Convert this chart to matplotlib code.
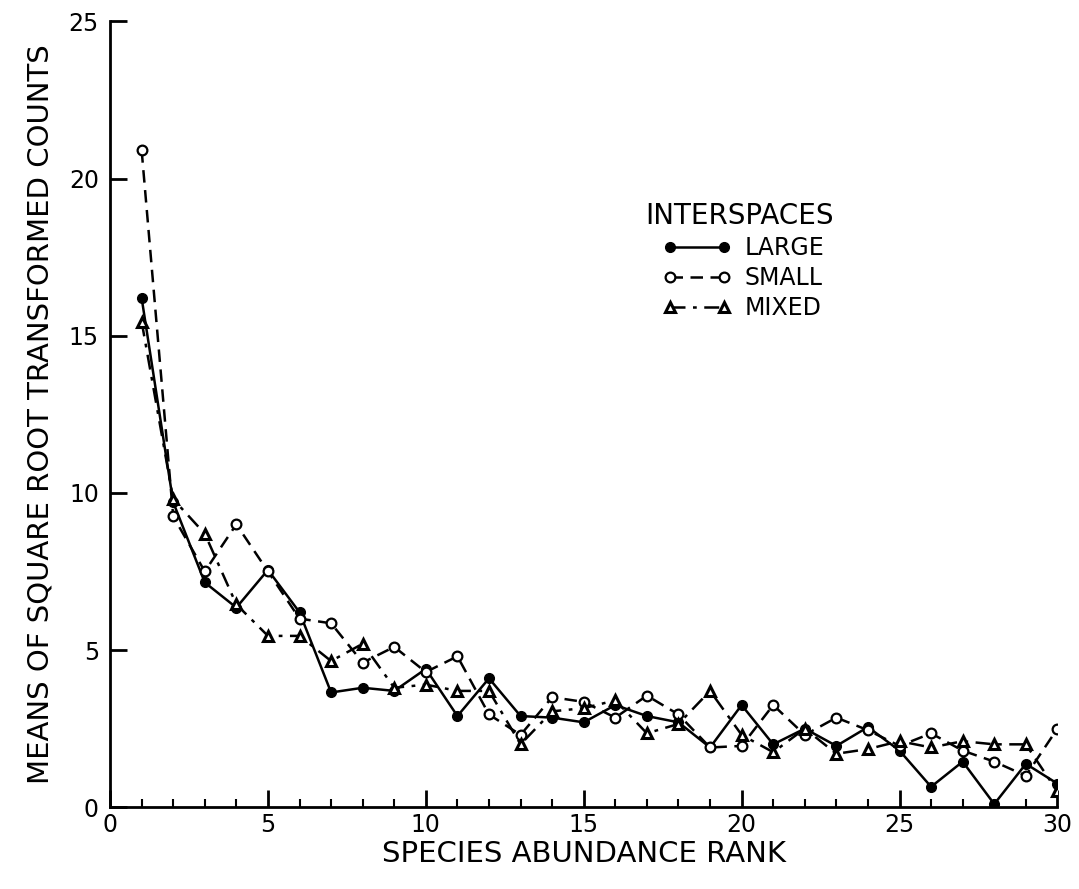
import matplotlib
matplotlib.use("Agg")
import matplotlib.pyplot as plt
from matplotlib.ticker import MultipleLocator

rank = list(range(1, 31))
large = [16.2, 9.7, 7.15, 6.35, 7.55, 6.2, 3.65, 3.8, 3.7, 4.4,
         2.9, 4.1, 2.9, 2.85, 2.7, 3.25, 2.9, 2.7, 1.9, 3.25,
         2.0, 2.5, 1.95, 2.55, 1.8, 0.65, 1.45, 0.1, 1.38, 0.75]
small = [20.9, 9.25, 7.5, 9.0, 7.5, 6.0, 5.85, 4.6, 5.1, 4.3,
         4.8, 2.95, 2.3, 3.5, 3.35, 2.85, 3.55, 2.95, 1.9, 1.95,
         3.25, 2.3, 2.85, 2.45, 1.95, 2.35, 1.8, 1.45, 1.0, 2.5]
mixed = [15.45, 9.8, 8.7, 6.45, 5.45, 5.45, 4.65, 5.2, 3.8, 3.9,
         3.7, 3.7, 2.0, 3.05, 3.15, 3.4, 2.35, 2.65, 3.7, 2.3,
         1.75, 2.5, 1.7, 1.85, 2.1, 1.9, 2.1, 2.0, 2.0, 0.5]
series_names = ["LARGE", "SMALL", "MIXED"]
legend_title = "INTERSPACES"
x_label = "SPECIES ABUNDANCE RANK"
y_label = "MEANS OF SQUARE ROOT TRANSFORMED COUNTS"

plt.rcParams['font.family'] = ['DejaVu Sans']

fig = plt.figure(figsize=(10.79, 8.89), dpi=100)
ax = fig.add_axes([0.102, 0.092, 0.878, 0.884])

ms = 7
ax.plot(rank, large, color='black', lw=1.8, ls='-', marker='o', ms=ms,
        mfc='black', mec='black', label=series_names[0], zorder=3)
ax.plot(rank, small, color='black', lw=1.8, ls=(0, (5, 3)), marker='o', ms=ms,
        mfc='white', mec='black', mew=1.6, label=series_names[1], zorder=4)
ax.plot(rank, mixed, color='black', lw=1.8, ls=(0, (6, 3, 1.5, 3)), marker='^', ms=ms,
        mfc='white', mec='black', mew=2.2, label=series_names[2], zorder=5)

ax.set_xlim(0, 30)
ax.set_ylim(0, 25)
ax.xaxis.set_major_locator(MultipleLocator(5))
ax.xaxis.set_minor_locator(MultipleLocator(1))
ax.yaxis.set_major_locator(MultipleLocator(5))
for s in ['top', 'right']:
    ax.spines[s].set_visible(False)
for s in ['left', 'bottom']:
    ax.spines[s].set_linewidth(2)
ax.tick_params(axis='both', which='major', direction='in', length=12, width=2,
               labelsize=17, pad=8)
ax.tick_params(axis='x', which='major', pad=4)
ax.tick_params(axis='x', which='minor', direction='in', length=6, width=1.5)
ax.set_xlabel(x_label, fontsize=21, labelpad=2)
ax.set_ylabel(y_label, fontsize=21, labelpad=10)

fig.text(645 / 1079, 1 - 216 / 889, legend_title, fontsize=20, ha='left', va='center')
leg = ax.legend(loc='upper left', bbox_to_anchor=(663 / 1079, 1 - 236 / 889),
                bbox_transform=fig.transFigure, borderaxespad=0, borderpad=0,
                frameon=False, numpoints=2, handlelength=2.9, fontsize=17,
                labelspacing=0.25, handletextpad=0.55)

fig.savefig("out.png", dpi=100)
